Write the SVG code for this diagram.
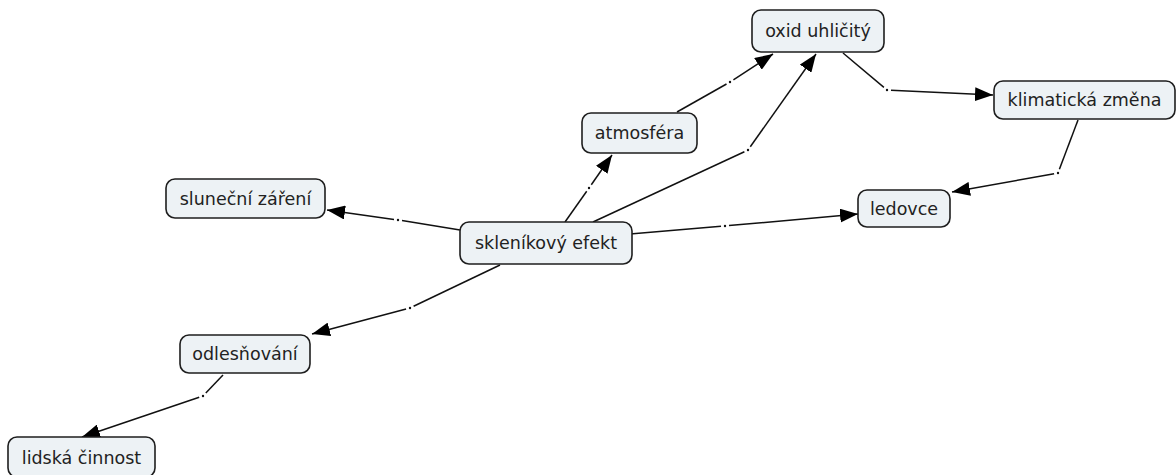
<svg xmlns="http://www.w3.org/2000/svg" width="1176" height="475" viewBox="0 0 1176 475">
<style>
.n rect{fill:#edf2f5;stroke:#1e1e1e;stroke-width:1.6}
.n text{font-family:"DejaVu Sans",Verdana,sans-serif;font-size:17.5px;fill:#222;text-anchor:middle}
.c line,.c path{stroke:#111;stroke-width:1.5;fill:none}
.c circle{fill:#111}
</style>
<defs>
<marker id="ah" markerUnits="userSpaceOnUse" viewBox="0 0 18 14" refX="18" refY="7" markerWidth="18" markerHeight="14" orient="auto">
<path d="M0,0 L18,7 L0,14 z" fill="#000"/>
</marker>
</defs>
<rect width="1176" height="475" fill="#fff"/>
<g id="connectors" class="c">
<line x1="460" y1="230" x2="402" y2="220.6"/><circle cx="398" cy="220" r="1.2"/><line x1="394" y1="219.4" x2="327" y2="210" marker-end="url(#ah)"/>
<line x1="565" y1="222" x2="586.7" y2="191.3"/><circle cx="589" cy="188" r="1.2"/><line x1="591.3" y1="184.7" x2="612" y2="155" marker-end="url(#ah)"/>
<line x1="677" y1="112" x2="726.5" y2="84"/><circle cx="730" cy="82" r="1.2"/><line x1="733.4" y1="79.9" x2="773" y2="54" marker-end="url(#ah)"/>
<line x1="593" y1="222" x2="744.4" y2="151.7"/><circle cx="748" cy="150" r="1.2"/><line x1="750.3" y1="146.7" x2="816" y2="54" marker-end="url(#ah)"/>
<line x1="843" y1="53" x2="883.9" y2="87.4"/><circle cx="887" cy="90" r="1.2"/><line x1="891" y1="90.2" x2="993" y2="95" marker-end="url(#ah)"/>
<line x1="1078" y1="120" x2="1059.4" y2="169.3"/><circle cx="1058" cy="173" r="1.2"/><line x1="1054.1" y1="173.7" x2="952" y2="192" marker-end="url(#ah)"/>
<line x1="630" y1="234" x2="721" y2="226.3"/><circle cx="725" cy="226" r="1.2"/><line x1="729" y1="225.6" x2="858" y2="214" marker-end="url(#ah)"/>
<line x1="500" y1="265" x2="413.6" y2="306.3"/><circle cx="410" cy="308" r="1.2"/><line x1="406.1" y1="309" x2="312" y2="334" marker-end="url(#ah)"/>
<line x1="223" y1="375" x2="205.8" y2="393.1"/><circle cx="203" cy="396" r="1.2"/><line x1="199.2" y1="397.3" x2="82" y2="437" marker-end="url(#ah)"/>
</g>
<g id="oxid" class="n"><rect x="752" y="10" width="132" height="42" rx="9"/><text x="818" y="37">oxid uhličitý</text></g>
<g id="klima" class="n"><rect x="994" y="81" width="181" height="38" rx="9"/><text x="1084.5" y="106">klimatická změna</text></g>
<g id="ledovce" class="n"><rect x="858" y="190" width="92" height="37" rx="9"/><text x="904" y="214.5">ledovce</text></g>
<g id="sklenik" class="n"><rect x="460" y="222" width="172" height="42" rx="9"/><text x="546" y="249">skleníkový efekt</text></g>
<g id="atmosfera" class="n"><rect x="582" y="113" width="115" height="40" rx="9"/><text x="639.5" y="139">atmosféra</text></g>
<g id="slunecni" class="n"><rect x="166" y="179" width="159" height="39" rx="9"/><text x="245.5" y="204.5">sluneční záření</text></g>
<g id="odlesnovani" class="n"><rect x="180" y="335" width="130" height="38" rx="9"/><text x="245" y="360">odlesňování</text></g>
<g id="lidska" class="n"><rect x="8" y="437" width="147" height="40" rx="9"/><text x="81.5" y="464">lidská činnost</text></g>
</svg>
